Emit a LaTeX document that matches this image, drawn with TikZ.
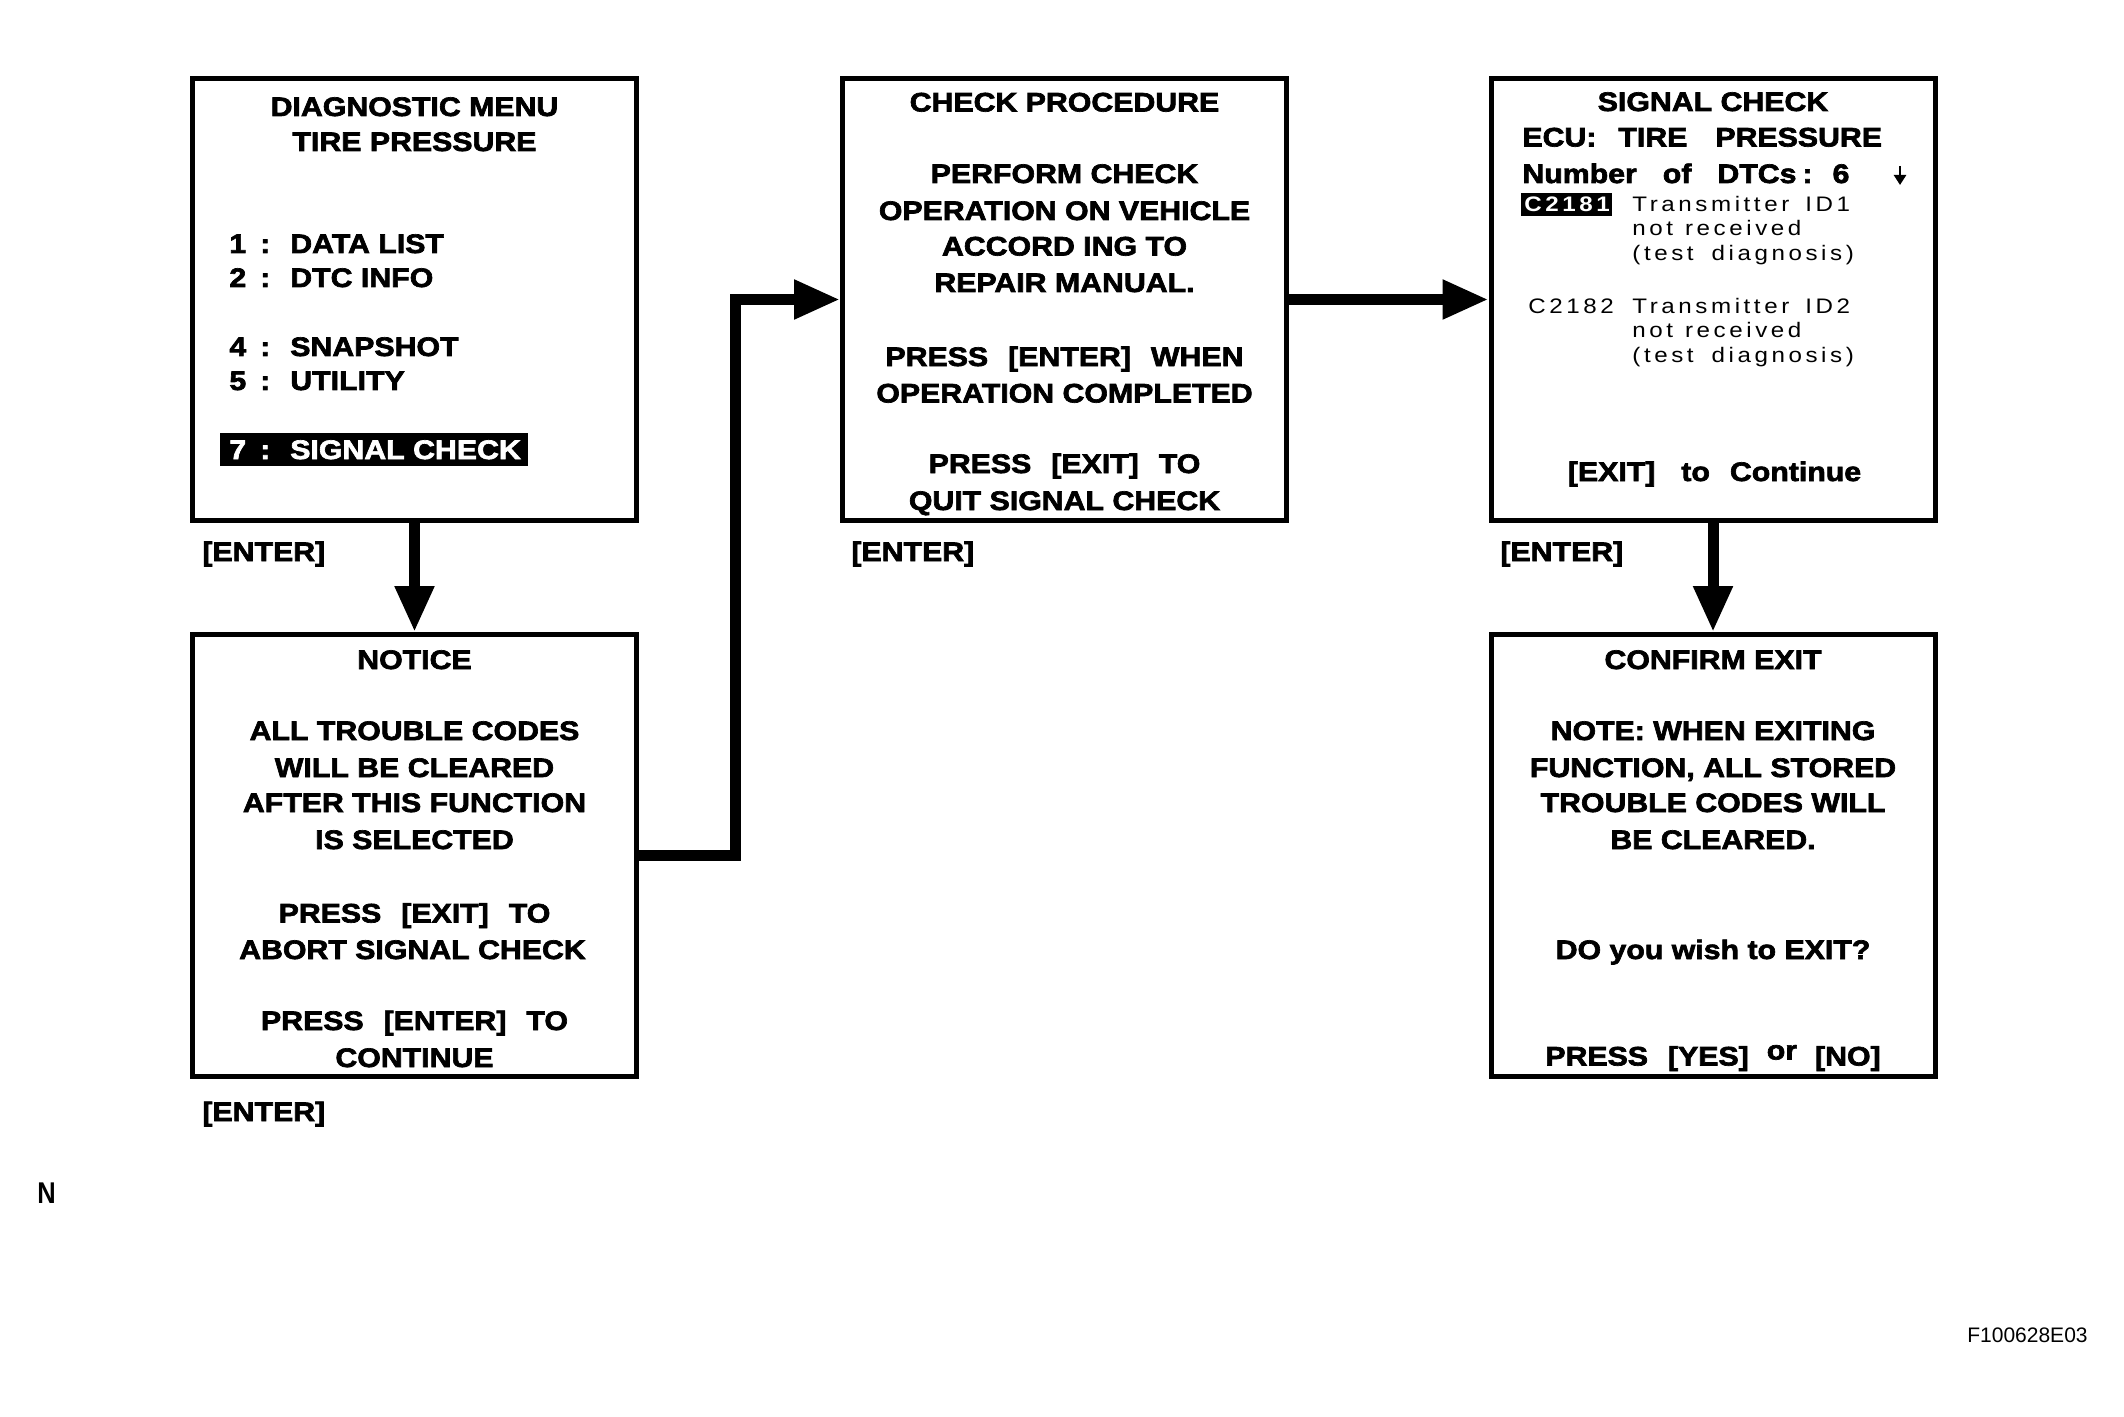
\documentclass[tikz,border=0pt]{standalone}
\usepackage{fontspec}
\setmainfont{Liberation Sans}[FakeStretch=1.13,BoldFeatures={FakeBold=2.5}]
\newfontfamily\smallfont{Liberation Sans}[FakeStretch=1.15,LetterSpace=17]
\newfontfamily\plainfont{Liberation Sans}
\usetikzlibrary{arrows.meta}
\begin{document}
\begin{tikzpicture}[x=0.5pt,y=-0.5pt,
  screen/.style={draw, line width=2.5pt, minimum width=222pt, minimum height=221pt, inner sep=0pt},
  bt/.style={font=\fontsize{13.4pt}{15pt}\selectfont\bfseries, inner sep=0pt, anchor=base},
  btl/.style={bt, anchor=base west},
  st/.style={font=\fontsize{10.5pt}{12pt}\smallfont, inner sep=0pt, anchor=base west},
  key/.style={bt, anchor=base west},
  hilite/.style={fill=black, inner sep=0pt},
  arr/.style={line width=5.5pt, -{Triangle[length=23pt,width=18.5pt]}},
]
\useasboundingbox (0,0) rectangle (2124,1417);

% screens
\node[screen] (b1) at (414.5,299.5) {};
\node[screen] (b3) at (1064.5,299.5) {};
\node[screen] (b4) at (1713,299.5) {};
\node[screen] (b2) at (414.5,855.5) {};
\node[screen] (b5) at (1713,855.5) {};

% connectors
\draw[arr] (b1.south) -- (b2.north);
\draw[arr] (b4.south) -- (b5.north);
\draw[arr] (b3.east) -- (b4.west);
\coordinate (k) at (735,855.5);
\draw[arr] (b2.east) -- (k) |- (b3.west);

% box 1
\node[bt] (m1) at (414.5,116) {DIAGNOSTIC MENU};
\node[bt] (m2) at (414.5,151) {TIRE PRESSURE};
\node[btl] (m3) at (229,253) {1\hspace{7pt}:\hspace{10pt}DATA LIST};
\node[btl] (m4) at (229,287) {2\hspace{7pt}:\hspace{10pt}DTC INFO};
\node[btl] (m5) at (229,356) {4\hspace{7pt}:\hspace{10pt}SNAPSHOT};
\node[btl] (m6) at (229,390) {5\hspace{7pt}:\hspace{10pt}UTILITY};
\node[hilite, minimum width=154pt, minimum height=16.5pt] (hl) at (374,449.5) {};
\node[btl, text=white] (m7) at (229,459) {7\hspace{7pt}:\hspace{10pt}SIGNAL CHECK};

% box 3
\node[bt] (p1) at (1064.5,111.5) {CHECK PROCEDURE};
\node[bt] (p2) at (1064.5,183) {PERFORM CHECK};
\node[bt] (p3) at (1064.5,220) {OPERATION ON VEHICLE};
\node[bt] (p4) at (1064.5,255.5) {ACCORD ING TO};
\node[bt] (p5) at (1064.5,292) {REPAIR MANUAL.};
\node[bt] (p6) at (1064.5,366) {PRESS\hspace{10pt}[ENTER]\hspace{10pt}WHEN};
\node[bt] (p7) at (1064.5,402.5) {OPERATION COMPLETED};
\node[bt] (p8) at (1064.5,473) {PRESS\hspace{10pt}[EXIT]\hspace{10pt}TO};
\node[bt] (p9) at (1064.5,510) {QUIT SIGNAL CHECK};

% box 4
\node[bt] (s1) at (1713,111) {SIGNAL CHECK};
\node[btl] (s2) at (1522,146.5) {ECU:\hspace{11pt}TIRE\hspace{14pt}PRESSURE};
\node[btl] (s3) at (1522,183) {Number\hspace{13pt}of\hspace{13pt}DTCs\hspace{3pt}:\hspace{10pt}6};
\coordinate (da) at (1900,166);
\coordinate (db) at (1900,185);
\draw[line width=1.2pt, -{Triangle[length=5pt,width=6pt]}] (da) -- (db);
\node[hilite, minimum width=45.5pt, minimum height=11.5pt] (c1) at (1566.5,204.5) {};
\node[st, text=white, font=\fontsize{10.5pt}{12pt}\smallfont\bfseries] (c1t) at (1524,211.5) {C2181};
\node[st] (d1) at (1632,211.5) {Transmitter\hspace{8pt}ID1};
\node[st] (d2) at (1632,236) {not\hspace{6pt}received};
\node[st] (d3) at (1632,260.5) {(test\hspace{9pt}diagnosis)};
\node[st] (d4) at (1528,313.5) {C2182};
\node[st] (d5) at (1632,313.5) {Transmitter\hspace{8pt}ID2};
\node[st] (d6) at (1632,338) {not\hspace{6pt}received};
\node[st] (d7) at (1632,362.5) {(test\hspace{9pt}diagnosis)};
\node[bt] (s4) at (1714.5,481) {[EXIT]\hspace{13pt}to\hspace{10pt}Continue};

% box 2
\node[bt] (n1) at (414.5,669) {NOTICE};
\node[bt] (n2) at (414.5,740) {ALL TROUBLE CODES};
\node[bt] (n3) at (414.5,777) {WILL BE CLEARED};
\node[bt] (n4) at (414.5,812) {AFTER THIS FUNCTION};
\node[bt] (n5) at (414.5,849) {IS SELECTED};
\node[bt] (n6) at (414.5,922.5) {PRESS\hspace{10pt}[EXIT]\hspace{10pt}TO};
\node[bt] (n7) at (412.5,959) {ABORT SIGNAL CHECK};
\node[bt] (n8) at (414.5,1030) {PRESS\hspace{10pt}[ENTER]\hspace{10pt}TO};
\node[bt] (n9) at (414.5,1067) {CONTINUE};

% box 5
\node[bt] (x1) at (1713,669) {CONFIRM EXIT};
\node[bt] (x2) at (1713,740) {NOTE: WHEN EXITING};
\node[bt] (x3) at (1713,777) {FUNCTION, ALL STORED};
\node[bt] (x4) at (1713,812) {TROUBLE CODES WILL};
\node[bt] (x5) at (1713,849) {BE CLEARED.};
\node[bt] (x6) at (1713,959) {DO you wish to EXIT?};
\node[bt] (x7) at (1713,1065.5) {PRESS\hspace{10pt}[YES]\hspace{9pt}\raisebox{3pt}{or}\hspace{9pt}[NO]};

% key labels
\node[key] (e1) at (202,561) {[ENTER]};
\node[key] (e2) at (202,1121) {[ENTER]};
\node[key] (e3) at (851,561) {[ENTER]};
\node[key] (e4) at (1500,561) {[ENTER]};

% corner marks
\node[inner sep=0pt, anchor=base west, font=\plainfont\fontsize{15pt}{18pt}\selectfont\bfseries, xscale=0.85] (nn) at (37,1203) {N};
\node[inner sep=0pt, anchor=base east, font=\plainfont\fontsize{10.5pt}{12pt}\selectfont] (fc) at (2088,1342) {F100628E03};
\end{tikzpicture}
\end{document}
